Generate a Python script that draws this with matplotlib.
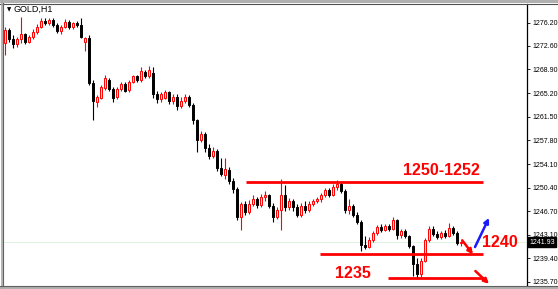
import matplotlib.pyplot as plt
from matplotlib.patches import Rectangle
from matplotlib.lines import Line2D
import matplotlib.transforms as mtransforms

symbol = "GOLD,H1"

# hourly candles (oldest first)
opens = [1273.0, 1275.0, 1273.6, 1272.8, 1273.6, 1274.4, 1273.2, 1273.9, 1274.8, 1275.6,
         1276.5, 1276.2, 1276.6, 1275.8, 1274.9, 1275.6, 1276.3, 1275.5, 1276.1, 1275.8,
         1273.2, 1273.8, 1266.8, 1263.8, 1264.5, 1266.0, 1267.3, 1265.8, 1264.6, 1265.8,
         1266.6, 1265.7, 1267.0, 1267.8, 1267.3, 1268.5, 1267.8, 1268.4, 1265.0, 1264.2,
         1264.5, 1265.3, 1263.9, 1264.6, 1263.2, 1264.0, 1264.6, 1263.4, 1261.0, 1257.9,
         1258.8, 1256.6, 1255.4, 1256.2, 1253.5, 1252.4, 1253.2, 1251.5, 1250.2, 1245.8,
         1247.8, 1246.6, 1247.9, 1248.6, 1247.7, 1248.9, 1249.2, 1247.6, 1245.8, 1246.9,
         1249.3, 1247.4, 1248.3, 1247.4, 1246.2, 1247.5, 1246.9, 1247.8, 1248.3, 1248.6,
         1249.2, 1250.0, 1249.3, 1250.6, 1251.0, 1249.9, 1246.9, 1247.5, 1246.2, 1245.1,
         1241.5, 1241.2, 1242.3, 1243.3, 1244.3, 1243.8, 1244.4, 1244.0, 1245.3, 1243.0,
         1243.7, 1242.8, 1241.3, 1238.5, 1236.9, 1239.0, 1242.3, 1244.0, 1243.2, 1242.7,
         1243.3, 1242.9, 1244.2, 1243.4, 1241.8]
highs = [1275.6, 1275.4, 1274.3, 1274.0, 1277.1, 1274.6, 1274.3, 1275.2, 1276.0, 1276.9,
         1276.9, 1277.0, 1276.9, 1276.1, 1275.9, 1276.7, 1276.6, 1276.3, 1276.5, 1277.0,
         1274.0, 1274.2, 1267.2, 1264.9, 1266.5, 1268.0, 1267.6, 1266.1, 1266.2, 1266.9,
         1266.9, 1267.3, 1268.1, 1268.1, 1269.2, 1268.8, 1269.4, 1269.3, 1265.5, 1265.4,
         1265.7, 1265.5, 1265.0, 1265.0, 1264.6, 1265.0, 1264.9, 1263.6, 1261.2, 1259.3,
         1259.1, 1257.2, 1256.8, 1256.5, 1255.0, 1255.0, 1253.6, 1251.9, 1250.5, 1248.2,
         1248.4, 1248.5, 1249.2, 1249.0, 1249.5, 1249.9, 1249.4, 1248.0, 1247.4, 1251.7,
         1250.9, 1248.8, 1248.6, 1247.8, 1248.0, 1248.3, 1248.3, 1248.7, 1249.0, 1249.6,
         1250.4, 1250.4, 1251.0, 1251.6, 1251.5, 1250.2, 1248.6, 1247.8, 1246.6, 1245.3,
         1242.8, 1242.7, 1243.7, 1244.6, 1244.8, 1244.7, 1244.8, 1245.9, 1245.6, 1244.0,
         1244.0, 1243.0, 1241.5, 1239.5, 1239.4, 1242.6, 1244.5, 1244.4, 1243.7, 1243.7,
         1243.8, 1244.9, 1244.5, 1243.6, 1242.1]
lows = [1271.2, 1273.2, 1272.2, 1272.4, 1273.0, 1272.8, 1273.0, 1273.6, 1274.5, 1275.3,
        1275.8, 1275.9, 1275.6, 1274.6, 1274.5, 1275.3, 1275.2, 1275.2, 1275.6, 1273.8,
        1271.8, 1266.5, 1261.0, 1263.0, 1264.2, 1265.7, 1265.5, 1263.8, 1264.3, 1265.5,
        1265.3, 1265.4, 1266.7, 1266.9, 1267.0, 1267.5, 1267.5, 1264.4, 1263.6, 1263.8,
        1264.2, 1263.5, 1263.5, 1262.6, 1262.9, 1263.6, 1263.0, 1260.4, 1256.0, 1257.5,
        1256.0, 1254.9, 1255.0, 1253.0, 1252.2, 1251.8, 1251.0, 1249.6, 1245.4, 1243.8,
        1246.2, 1246.3, 1247.5, 1247.2, 1247.4, 1248.3, 1247.2, 1245.0, 1245.6, 1243.8,
        1246.8, 1247.0, 1246.8, 1245.8, 1245.9, 1246.4, 1246.6, 1247.5, 1248.0, 1248.2,
        1248.9, 1248.9, 1249.1, 1250.0, 1249.6, 1246.5, 1246.3, 1245.8, 1244.7, 1240.6,
        1240.8, 1241.0, 1242.0, 1243.0, 1243.5, 1243.6, 1243.7, 1243.8, 1242.4, 1242.6,
        1242.5, 1241.0, 1236.6, 1236.3, 1236.5, 1238.8, 1242.0, 1242.9, 1242.4, 1242.4,
        1242.6, 1242.7, 1243.0, 1241.5, 1241.3]
closes = [1275.0, 1273.6, 1272.8, 1273.6, 1274.4, 1273.2, 1273.9, 1274.8, 1275.6, 1276.5,
          1276.2, 1276.6, 1275.8, 1274.9, 1275.6, 1276.3, 1275.5, 1276.1, 1275.8, 1274.0,
          1273.8, 1266.8, 1264.0, 1264.6, 1266.2, 1267.5, 1265.8, 1264.5, 1265.9, 1266.6,
          1265.6, 1267.0, 1267.8, 1267.2, 1268.6, 1267.8, 1268.8, 1265.0, 1264.2, 1265.0,
          1265.3, 1263.9, 1264.6, 1263.2, 1264.0, 1264.6, 1263.4, 1261.0, 1257.9, 1258.8,
          1256.6, 1255.4, 1256.2, 1253.5, 1252.6, 1253.3, 1251.5, 1250.2, 1245.8, 1247.8,
          1246.6, 1247.9, 1248.6, 1247.7, 1248.9, 1249.2, 1247.6, 1245.8, 1246.9, 1249.3,
          1247.4, 1248.3, 1247.4, 1246.2, 1247.5, 1246.9, 1247.8, 1248.3, 1248.6, 1249.2,
          1250.0, 1249.3, 1250.6, 1251.0, 1249.9, 1246.9, 1247.5, 1246.2, 1245.1, 1241.5,
          1241.2, 1242.3, 1243.3, 1244.3, 1243.8, 1244.4, 1244.0, 1245.3, 1243.0, 1243.7,
          1242.8, 1241.3, 1238.5, 1236.9, 1239.0, 1242.3, 1244.0, 1243.2, 1242.7, 1243.3,
          1242.9, 1244.2, 1243.4, 1241.8, 1241.93]
last_price = 1241.93

price_ticks = [1276.20, 1272.60, 1268.90, 1265.20, 1261.50, 1257.80,
               1254.10, 1250.40, 1246.70, 1243.10, 1239.40, 1235.70]

# hand drawn levels: (price, from bar, to bar)
level_prices = [1251.3, 1240.0, 1236.3]
level_from = [60.2, 78.8, 95.8]
level_to = [119.5, 119.5, 119.5]

# labels: text, bar, price at baseline
label_texts = ["1250-1252", "1240", "1235"]
label_bars = [99.5, 119.2, 82.5]
label_prices = [1252.4, 1241.15, 1236.3]

# arrows: start bar/price -> end bar/price
arrow_x0 = [117.5, 114.3, 117.6]
arrow_y0 = [1241.15, 1242.2, 1237.4]
arrow_x1 = [121.0, 117.0, 121.0]
arrow_y1 = [1245.7, 1240.0, 1235.4]
arrow_colors = ["#1a1aff", "#ff0000", "#ff0000"]

W, H = 558, 289
fig = plt.figure(figsize=(W / 100, H / 100), dpi=100)
ax = fig.add_axes([3 / W, 3 / H, 524 / W, 282 / H])

for i, (o, h, l, c) in enumerate(zip(opens, highs, lows, closes)):
    up = c >= o
    col = "#ff0000" if up else "#000000"
    ax.vlines(i, l, h, color=col, lw=0.8, zorder=2)
    ax.add_patch(Rectangle((i - 0.32, min(o, c)), 0.64, max(abs(c - o), 0.1),
                           facecolor="#ffd0d0" if up else "black", edgecolor=col,
                           lw=0.7, zorder=3))

ax.axhline(last_price, color="#dff3df", lw=0.7, zorder=1)

for p, x0, x1 in zip(level_prices, level_from, level_to):
    ax.hlines(p, x0, x1, color="#ff0000", lw=2.0, zorder=4)

for t, x, y in zip(label_texts, label_bars, label_prices):
    ax.text(x, y, t, color="#ff0000", fontsize=11.5, fontweight="bold",
            family="Liberation Sans", ha="left", va="baseline", zorder=5)

for x0, y0, x1, y1, col in zip(arrow_x0, arrow_y0, arrow_x1, arrow_y1, arrow_colors):
    ax.annotate("", xy=(x1, y1), xytext=(x0, y0),
                arrowprops=dict(arrowstyle="-|>", color=col, lw=1.8,
                                mutation_scale=7, shrinkA=0, shrinkB=0), zorder=5)

ax.set_xlim(-0.5, 130.5)
ax.set_ylim(1235.06, 1279.12)
ax.set_xticks([])
ax.yaxis.tick_right()
ax.set_yticks(price_ticks)
ax.set_yticklabels([f"{v:.2f}" for v in price_ticks])
ax.tick_params(axis="y", length=2.5, width=0.6, pad=1.2, labelsize=5.0,
               colors="black")
for lab in ax.get_yticklabels():
    lab.set_family("Liberation Sans")
for s in ["top", "left", "bottom"]:
    ax.spines[s].set_visible(False)
ax.spines["right"].set_linewidth(0.9)

# current price box
trans = mtransforms.blended_transform_factory(ax.transAxes, ax.transData)
ax.text(1.004, last_price, f"{last_price:.2f}", transform=trans, color="white",
        fontsize=5.0, family="Liberation Sans", va="center", ha="left",
        bbox=dict(boxstyle="square,pad=0.2", fc="black", ec="black"), zorder=6,
        clip_on=False)

# window frame
fig.add_artist(Rectangle((0, 1 - 3 / H), 1, 3 / H, transform=fig.transFigure,
                         color="#b0b0b0", lw=0))
fig.add_artist(Line2D([0, 1], [1 - 3.5 / H] * 2, transform=fig.transFigure,
                      color="#505050", lw=0.8))
fig.add_artist(Line2D([1.5 / W] * 2, [0, 1], transform=fig.transFigure,
                      color="#a8a8a8", lw=1.2))
fig.add_artist(Line2D([3 / W] * 2, [3 / H, 1 - 3 / H], transform=fig.transFigure,
                      color="#606060", lw=0.8))
fig.add_artist(Rectangle((0, 0), 1, 2.5 / H, transform=fig.transFigure,
                         color="#b0b0b0", lw=0))
fig.add_artist(Line2D([0, 1], [3 / H] * 2, transform=fig.transFigure,
                      color="#606060", lw=0.8))

fig.text(7 / W, 1 - 9.5 / H, "\u25bc", fontsize=4, va="center", ha="left")
fig.text(13 / W, 1 - 9.5 / H, symbol, fontsize=6.5, family="Liberation Sans",
         va="center", ha="left")

fig.savefig("out.png", dpi=100, facecolor="white")
